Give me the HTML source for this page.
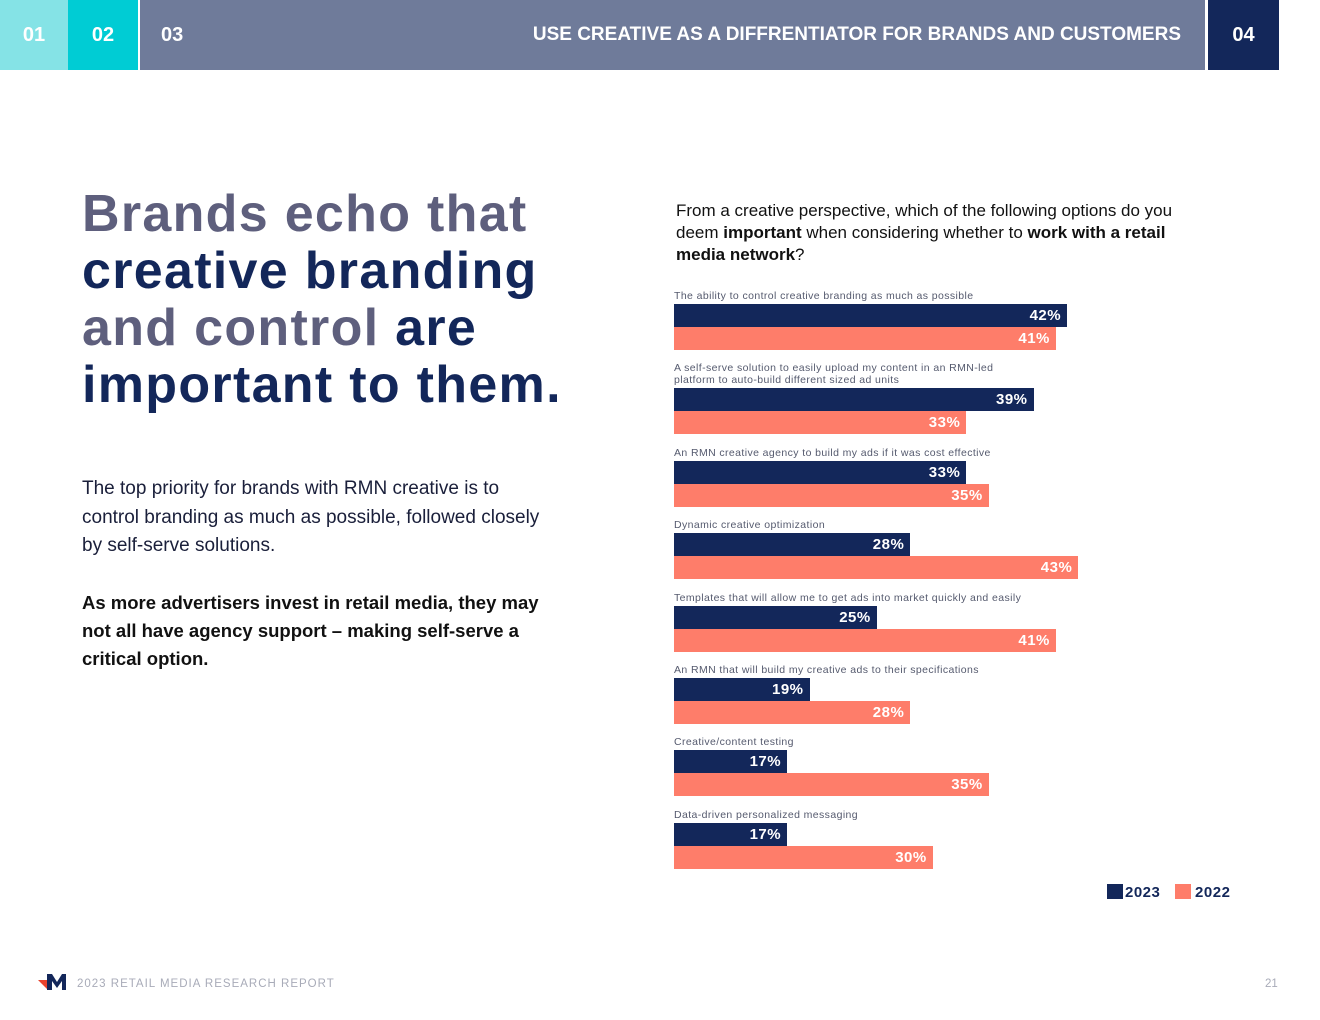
<!DOCTYPE html>
<html><head><meta charset="utf-8">
<style>
*{margin:0;padding:0;box-sizing:border-box}
body{width:1320px;height:1020px;background:#fff;position:relative;overflow:hidden;font-family:"Liberation Sans",sans-serif}
.hd{position:absolute;top:0;height:70px;color:#fff;font-weight:bold;font-size:20px;line-height:70px}
.t{position:absolute}
#chart .row{position:absolute;left:0}
.lbl{font-size:10.5px;color:#555a6e;line-height:12px;letter-spacing:0.4px}
.bar{position:absolute;height:23px;color:#fff;font-weight:bold;font-size:15px;line-height:23px;text-align:right;padding-right:6px;letter-spacing:0.5px}
</style></head><body>
<div class="hd" style="left:0;width:68px;background:#85e3e6;text-align:center">01</div>
<div class="hd" style="left:68px;width:70px;background:#00ccd4;text-align:center">02</div>
<div class="hd" style="left:140px;width:1065px;background:#6f7b9a"><span style="position:absolute;left:21px">03</span><span style="position:absolute;right:24px;font-size:19px">USE CREATIVE AS A DIFFRENTIATOR FOR BRANDS AND CUSTOMERS</span></div>
<div class="hd" style="left:1208px;width:71px;background:#13275a;text-align:center">04</div>

<div class="t" style="left:82px;top:186px;font-size:52px;font-weight:bold;line-height:57px;color:#13275a;letter-spacing:1.3px">
<span style="color:#5e5f7d">Brands echo that</span><br>creative branding<br><span style="color:#5e5f7d">and control</span> are<br>important to them.</div>

<div class="t" style="left:82px;top:475px;width:472px;font-size:19px;line-height:28.5px;color:#1a1f3a">The top priority for brands with RMN creative is to control branding as much as possible, followed closely by self-serve solutions.</div>
<div class="t" style="left:82px;top:589px;width:490px;font-size:18.5px;line-height:28px;font-weight:bold;color:#111">As more advertisers invest in retail media, they may not all have agency support – making self-serve a critical option.</div>

<div class="t" style="left:676px;top:200px;width:540px;font-size:17px;line-height:22px;color:#111">From a creative perspective, which of the following options do you deem <b>important</b> when considering whether to <b>work with a retail media network</b>?</div>

<div id="chart" class="t" style="left:674px;top:290px;width:560px;height:590px"></div>

<div class="t" style="left:1107px;top:884px;font-size:15px;font-weight:bold;color:#13275a;line-height:16px;letter-spacing:0.5px">
<span><span style="display:inline-block;width:16px;height:15px;background:#13275a;vertical-align:-2px;margin-right:2px"></span>2023</span>
<span style="margin-left:10px"><span style="display:inline-block;width:16px;height:15px;background:#fe7d6a;vertical-align:-2px;margin-right:4px"></span>2022</span></div>

<div class="t" style="left:38px;top:974px;width:28px;height:16px">
<svg width="28" height="16"><polygon points="0,6 10,6 10,16" fill="#e8432e"/><polygon points="9,0 14,0 19,8 24,0 28,0 28,16 24,16 24,7 19,14 14,7 14,16 9,16" fill="#13275a"/></svg></div>
<div class="t" style="left:77px;top:978px;font-size:11.5px;color:#a8abb8;letter-spacing:1px">2023 RETAIL MEDIA RESEARCH REPORT</div>
<div class="t" style="left:1265px;top:978px;font-size:11.5px;color:#a8abb8">21</div>

<script>
const categories=["The ability to control creative branding as much as possible","A self-serve solution to easily upload my content in an RMN-led platform to auto-build different sized ad units","An RMN creative agency to build my ads if it was cost effective","Dynamic creative optimization","Templates that will allow me to get ads into market quickly and easily","An RMN that will build my creative ads to their specifications","Creative/content testing","Data-driven personalized messaging"];
const values2023=[42,39,33,28,25,19,17,17];
const values2022=[41,33,35,43,41,28,35,30];
const valueLabels2023=["42%","39%","33%","28%","25%","19%","17%","17%"];
const valueLabels2022=["41%","33%","35%","43%","41%","28%","35%","30%"];

const xScale=v=>(v-6.9)*11.2;
const chart=document.getElementById('chart');
let y=0;
categories.forEach((c,i)=>{
  const lines=c.length>70?2:1;
  const row=document.createElement('div');
  
  
  row.className='row';row.style.top=y+'px';
  const l=document.createElement('div');
  
  
  l.className='lbl';
  l.style.width=lines===2?'340px':'540px';
  l.textContent=c;
  row.appendChild(l);
  const lh=lines*12+2;
  const b1=document.createElement('div');
  
  
  b1.className='bar';b1.style.background='#13275a';
  b1.style.top=lh+'px';b1.style.width=xScale(values2023[i])+'px';
  b1.textContent=valueLabels2023[i];
  row.appendChild(b1);
  const b2=document.createElement('div');
  
  
  b2.className='bar';b2.style.background='#fe7d6a';
  b2.style.top=(lh+23)+'px';b2.style.width=xScale(values2022[i])+'px';
  b2.textContent=valueLabels2022[i];
  row.appendChild(b2);
  chart.appendChild(row);
  y+=lh+46+12.4;
});
</script>
</body></html>
